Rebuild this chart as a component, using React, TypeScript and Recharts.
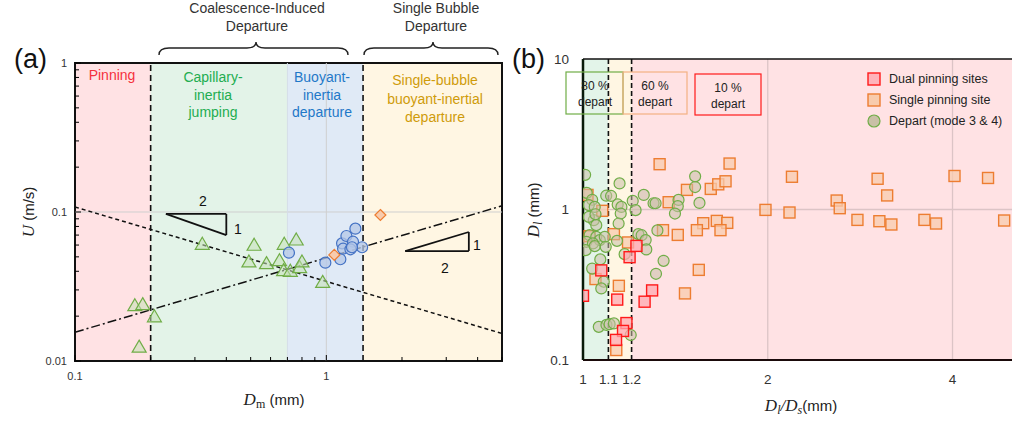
import React from "react";
import { ScatterChart, Scatter, XAxis, YAxis, ReferenceArea, ReferenceLine, Legend } from "recharts";

// ---------- panel (a) ----------
const aXTicks = [0.1, 0.2, 0.3, 0.4, 0.5, 0.6, 0.7, 0.8, 0.9, 1, 2, 3, 4, 5];
const aYTicks = [0.01, 0.02, 0.03, 0.04, 0.05, 0.06, 0.07, 0.08, 0.09, 0.1, 0.2, 0.3, 0.4, 0.5, 0.6, 0.7, 0.8, 0.9, 1];
const aXLabels = [0.1, 1];
const aYLabels = [0.01, 0.1, 1];

// regime boundaries in Dm (mm)
const aBounds = [0.1, 0.2, 0.7, 1.4, 5];
const aFills = ["#ffe2e4", "#e3f3e8", "#e0eaf6", "#fff6e3"];

const capillaryPts: [number, number][] = [
  [0.173, 0.0235], [0.186, 0.0239], [0.207, 0.0198], [0.18, 0.0124],
  [0.321, 0.0607], [0.516, 0.0598], [0.492, 0.0462], [0.578, 0.045],
  [0.651, 0.0471], [0.68, 0.0607], [0.759, 0.0649], [0.676, 0.0404],
  [0.719, 0.04], [0.783, 0.0423], [0.8, 0.0462], [0.967, 0.0337],
];
const buoyantPts: [number, number][] = [
  [0.71, 0.0533], [0.991, 0.0457], [1.137, 0.0482], [1.155, 0.0616],
  [1.202, 0.069], [1.305, 0.0773], [1.277, 0.0632], [1.166, 0.0567],
  [1.247, 0.0562], [1.388, 0.058], [1.265, 0.058],
];
const singlePts: [number, number][] = [[1.076, 0.0515], [1.641, 0.0955]];

// scaling lines U ~ D^-1/2 and U ~ D^1/2
const capLine: [number, number][] = [[0.1, 0.108], [5, 0.0153]];
const buoyLine: [number, number][] = [[0.1, 0.0156], [5, 0.11]];
const slopeTriA: [number, number][] = [[0.23, 0.097], [0.4, 0.097], [0.4, 0.07]];
const slopeTriB: [number, number][] = [[2.06, 0.0547], [3.69, 0.0547], [3.69, 0.0734]];

// ---------- panel (b) ----------
const bXTicks = [1, 1.1, 1.2, 2, 4];
const bYTicks = [0.1, 1, 10];
const bBounds = [1, 1.1, 1.2, 5];
const bFills = ["#e3f4e9", "#fff6e3", "#ffe2e4"];

const dualPts: [number, number][] = [
  [1.0, 0.267], [1.071, 0.394], [1.191, 0.482], [1.222, 0.573], [1.296, 0.29],
  [1.26, 0.244], [1.137, 0.252], [1.177, 0.176], [1.162, 0.156], [1.132, 0.136],
];
const singlePinPts: [number, number][] = [
  [1.333, 2.0], [1.733, 2.02], [2.19, 1.65], [3.02, 1.6], [4.03, 1.67], [4.57, 1.62],
  [3.13, 1.24], [2.59, 1.147], [2.62, 1.02], [1.477, 1.35], [1.615, 1.37], [1.661, 1.47],
  [1.707, 1.54], [1.379, 1.118], [1.983, 0.994], [2.17, 0.955], [1.017, 1.25], [1.075, 0.98],
  [2.8, 0.853], [3.04, 0.836], [3.18, 0.795], [3.6, 0.853], [3.76, 0.807], [4.855, 0.845],
  [1.57, 0.811], [1.652, 0.84], [1.718, 0.815], [1.675, 0.729], [1.533, 0.729], [1.427, 0.678],
  [1.35, 0.729], [1.544, 0.397], [1.466, 0.277], [1.144, 0.311], [1.025, 0.665], [1.048, 0.345],
  [1.123, 0.686], [1.184, 0.604], [1.133, 0.1165],
];
const departPts: [number, number][] = [
  [1.008, 1.7], [1.014, 1.29], [1.035, 1.16], [1.022, 1.07], [1.045, 1.04], [1.091, 1.235],
  [1.111, 1.23], [1.147, 1.49], [1.139, 1.08], [1.155, 1.04], [1.152, 0.94], [1.143, 0.807],
  [1.205, 1.14], [1.218, 0.99], [1.256, 1.25], [1.303, 1.1], [1.313, 1.1], [1.431, 1.158],
  [1.427, 1.052], [1.412, 0.94], [1.523, 1.66], [1.523, 1.41], [1.548, 1.106], [1.322, 0.726],
  [1.231, 0.686], [1.246, 0.675], [1.265, 0.626], [1.268, 0.543], [1.353, 0.456], [1.315, 0.374],
  [1.041, 0.849], [1.051, 0.787], [1.025, 0.675], [1.051, 0.658], [1.065, 0.626], [1.085, 0.658],
  [1.013, 0.61], [1.038, 0.595], [1.01, 0.537], [1.045, 0.571], [1.089, 0.565], [1.136, 0.619],
  [1.169, 0.505], [1.067, 0.466], [1.035, 0.405], [1.081, 0.331], [1.071, 0.299], [1.061, 0.166],
  [1.092, 0.171], [1.105, 0.173], [1.123, 0.175], [1.196, 0.1465], [1.022, 0.893], [1.048, 0.93],
];
const legendNames = ["Dual pinning sites", "Single pinning site", "Depart (mode 3 & 4)"];

const toXY = (pts: [number, number][]) => pts.map(([x, y]) => ({ x, y }));
const FONT = "'Liberation Sans', Arial, sans-serif";
const SERIF = "'Liberation Serif', 'Times New Roman', serif";

const Triangle = (p: any) => {
  const { cx, cy } = p;
  return (
    <polygon
      points={`${cx},${cy - 7} ${cx + 7},${cy + 5} ${cx - 7},${cy + 5}`}
      fill="#c5e0b4" fillOpacity={0.55} stroke="#70ad47" strokeWidth={1.2}
    />
  );
};
const Dot = (p: any) => (
  <circle cx={p.cx} cy={p.cy} r={5.5} fill="#b4c7e7" fillOpacity={0.75} stroke="#4472c4" strokeWidth={1.2} />
);
const Diamond = (p: any) => {
  const { cx, cy } = p;
  return <polygon points={`${cx},${cy - 5.5} ${cx + 5.5},${cy} ${cx},${cy + 5.5} ${cx - 5.5},${cy}`} fill="#f8cbad" stroke="#ed7d31" strokeWidth={1.2} />;
};
const square = (stroke: string, fill: string) => (p: any) => (
  <rect x={p.cx - 5.5} y={p.cy - 5.5} width={11} height={11} fill={fill} fillOpacity={0.75} stroke={stroke} strokeWidth={1.4} />
);
const DualSq = square("#ff1a1a", "#ffa8b0");
const SingleSq = square("#ed7d31", "#f8cbad");
const Depart = (p: any) => (
  <circle cx={p.cx} cy={p.cy} r={5.5} fill="#c9c0a6" fillOpacity={0.55} stroke="#70ad47" strokeWidth={1.2} />
);

const XTickA = (p: any) => {
  const { x, y, payload } = p;
  const major = aXLabels.includes(payload.value);
  const axisY = y - 11;
  return (
    <g>
      <line x1={x} x2={x} y1={axisY} y2={axisY - (major ? 6 : 4)} stroke="#000" />
      {major && (
        <text x={x} y={y} dy="0.71em" textAnchor="middle" fontSize={11} fontFamily={FONT} fill="#333">
          {payload.value}
        </text>
      )}
    </g>
  );
};
const YTickA = (p: any) => {
  const { x, y, payload } = p;
  const major = aYLabels.includes(payload.value);
  const axisX = x + 8;
  return (
    <g>
      <line x1={axisX} x2={axisX + (major ? 6 : 4)} y1={y} y2={y} stroke="#000" />
      {major && (
        <text x={x} y={y} dy="0.35em" textAnchor="end" fontSize={11} fontFamily={FONT} fill="#333">
          {payload.value}
        </text>
      )}
    </g>
  );
};

const BLegend = () => {
  const icons = [
    <rect x={1} y={1} width={12} height={12} fill="#ffb3ba" stroke="#ff1a1a" strokeWidth={1.4} />,
    <rect x={1} y={1} width={12} height={12} fill="#f8cbad" stroke="#ed7d31" strokeWidth={1.4} />,
    <circle cx={7} cy={7} r={6} fill="#c9c0a6" stroke="#70ad47" strokeWidth={1.2} />,
  ];
  return (
    <div style={{ fontFamily: FONT, fontSize: 12.5, color: "#222" }}>
      {legendNames.map((n, i) => (
        <div key={n} style={{ display: "flex", alignItems: "center", height: 21 }}>
          <svg width={14} height={14} style={{ marginRight: 8 }}>{icons[i]}</svg>
          <span>{n}</span>
        </div>
      ))}
    </div>
  );
};

function PanelA() {
  return (
    <ScatterChart width={510} height={421} margin={{ top: 63, right: 8, left: 0, bottom: 0 }}>
      <XAxis
        dataKey="x" type="number" scale="log" domain={[0.1, 5]} ticks={aXTicks} interval={0}
        allowDataOverflow height={60} tickSize={0} tickMargin={11} tick={<XTickA />}
        axisLine={false} tickLine={false}
      />
      <YAxis
        dataKey="y" type="number" scale="log" domain={[0.01, 1]} ticks={aYTicks} interval={0}
        allowDataOverflow width={75} tickSize={0} tickMargin={8} tick={<YTickA />}
        axisLine={false} tickLine={false}
      />
      {aFills.map((f, i) => (
        <ReferenceArea key={i} x1={aBounds[i]} x2={aBounds[i + 1]} fill={f} fillOpacity={1} ifOverflow="visible" />
      ))}
      <ReferenceLine x={1} stroke="#cfcfcf" ifOverflow="visible" />
      <ReferenceLine y={0.1} stroke="#cfcfcf" ifOverflow="visible" />
      <ReferenceLine x={0.7} stroke="#d4dde8" ifOverflow="visible" />
      {[aBounds[1], aBounds[3]].map((b) => (
        <ReferenceLine key={b} x={b} stroke="#111" strokeWidth={1.6} strokeDasharray="6 4" ifOverflow="visible" />
      ))}
      <ReferenceLine
        segment={capLine.map(([x, y]) => ({ x, y }))}
        stroke="#111" strokeWidth={1.5} strokeDasharray="4 3" ifOverflow="visible"
      />
      <ReferenceLine
        segment={buoyLine.map(([x, y]) => ({ x, y }))}
        stroke="#111" strokeWidth={1.5} strokeDasharray="9 3 2 3" ifOverflow="visible"
      />
      {[slopeTriA, slopeTriB].map((tri, t) =>
        tri.map((v, i) => {
          const w = tri[(i + 1) % 3];
          return (
            <ReferenceLine
              key={`${t}-${i}`}
              segment={[{ x: v[0], y: v[1] }, { x: w[0], y: w[1] }]}
              stroke="#111" strokeWidth={1.8} ifOverflow="visible"
            />
          );
        })
      )}
      <Scatter data={toXY(capillaryPts)} shape={Triangle} isAnimationActive={false} />
      <Scatter data={toXY(buoyantPts)} shape={Dot} isAnimationActive={false} />
      <Scatter data={toXY(singlePts)} shape={Diamond} isAnimationActive={false} />
      <ReferenceArea x1={0.1} x2={5} y1={0.01} y2={1} fill="none" stroke="#111" strokeWidth={2} ifOverflow="visible" />
    </ScatterChart>
  );
}

function PanelB() {
  return (
    <ScatterChart width={503} height={421} margin={{ top: 59, right: 1, left: 0, bottom: 0 }}>
      <XAxis
        dataKey="x" type="number" scale="log" domain={[1, 5]} ticks={bXTicks} interval={0}
        allowDataOverflow height={61} tickSize={0} tickMargin={14} tickLine={false}
        axisLine={{ stroke: "#1a0a0a", strokeWidth: 2 }}
        tick={{ fontSize: 13.5, fontFamily: FONT, fill: "#333" }}
      />
      <YAxis
        dataKey="y" type="number" scale="log" domain={[0.1, 10]} ticks={bYTicks} interval={0}
        allowDataOverflow width={73} tickSize={0} tickMargin={14} tickLine={false}
        axisLine={{ stroke: "#0a1a0a", strokeWidth: 2.5 }}
        tick={{ fontSize: 13.5, fontFamily: FONT, fill: "#333" }}
      />
      {bFills.map((f, i) => (
        <ReferenceArea key={i} x1={bBounds[i]} x2={bBounds[i + 1]} fill={f} fillOpacity={1} ifOverflow="visible" />
      ))}
      <ReferenceLine x={2} stroke="#dcc4c6" strokeWidth={1.3} ifOverflow="visible" />
      <ReferenceLine x={4} stroke="#dcc4c6" strokeWidth={1.3} ifOverflow="visible" />
      <ReferenceLine y={1} stroke="#dcc4c6" strokeWidth={1.3} ifOverflow="visible" />
      <ReferenceLine y={10} stroke="#111" strokeWidth={1.6} ifOverflow="visible" />
      {[bBounds[1], bBounds[2]].map((b) => (
        <ReferenceLine key={b} x={b} stroke="#111" strokeWidth={1.6} strokeDasharray="5 3" ifOverflow="visible" />
      ))}
      <Scatter name={legendNames[1]} data={toXY(singlePinPts)} shape={SingleSq} isAnimationActive={false} />
      <Scatter name={legendNames[2]} data={toXY(departPts)} shape={Depart} isAnimationActive={false} />
      <Scatter name={legendNames[0]} data={toXY(dualPts)} shape={DualSq} isAnimationActive={false} />
      <Legend
        layout="horizontal" verticalAlign="middle" align="center" content={<BLegend />}
        wrapperStyle={{ top: 68, left: 357, width: 150 }}
      />
    </ScatterChart>
  );
}

function Brace({ x1, x2, tip, y }: { x1: number; x2: number; tip: number; y: number }) {
  const d = `M${x1},${y + 13} Q${x1},${y + 6} ${x1 + 10},${y + 6} L${tip - 9},${y + 6} Q${tip},${y + 6} ${tip},${y} Q${tip},${y + 6} ${tip + 9},${y + 6} L${x2 - 10},${y + 6} Q${x2},${y + 6} ${x2},${y + 13}`;
  return <path d={d} fill="none" stroke="#222" strokeWidth={1.4} />;
}

function Overlay() {
  const t = { fontFamily: FONT, textAnchor: "middle" as const };
  return (
    <svg width={1013} height={421} style={{ position: "absolute", left: 0, top: 0, pointerEvents: "none" }}>
      <text x={14} y={68} fontSize={27} fontFamily={FONT} fill="#111">(a)</text>
      <text x={512} y={68} fontSize={27} fontFamily={FONT} fill="#111">(b)</text>

      <g {...t} fontSize={14} fill="#333">
        <text x={257} y={13}>Coalescence-Induced</text>
        <text x={257} y={31}>Departure</text>
        <text x={436} y={13}>Single Bubble</text>
        <text x={436} y={31}>Departure</text>
      </g>
      <Brace x1={159} x2={348} tip={256} y={42} />
      <Brace x1={364} x2={498} tip={433} y={42} />

      <g {...t} fontSize={14}>
        <text x={112} y={80} fill="#f5303c">Pinning</text>
        <text x={213} y={82} fill="#22ad50">Capillary-</text>
        <text x={213} y={100} fill="#22ad50">inertia</text>
        <text x={213} y={117} fill="#22ad50">jumping</text>
        <text x={322} y={82} fill="#1f78c8">Buoyant-</text>
        <text x={322} y={100} fill="#1f78c8">inertia</text>
        <text x={322} y={117} fill="#1f78c8">departure</text>
        <text x={435} y={85} fill="#cf9b0a">Single-bubble</text>
        <text x={435} y={104} fill="#cf9b0a">buoyant-inertial</text>
        <text x={435} y={122} fill="#cf9b0a">departure</text>
      </g>

      <g {...t} fontSize={14} fill="#111">
        <text x={203} y={206}>2</text>
        <text x={238} y={234}>1</text>
        <text x={477} y={250}>1</text>
        <text x={445} y={273}>2</text>
      </g>

      <text x={274} y={405} textAnchor="middle" fill="#222">
        <tspan fontFamily={SERIF} fontStyle="italic" fontSize={17}>D</tspan>
        <tspan fontFamily={SERIF} fontSize={12} dy={3}>m</tspan>
        <tspan fontFamily={FONT} fontSize={15} dy={-3}> (mm)</tspan>
      </text>
      <text transform="translate(34,212) rotate(-90)" textAnchor="middle" fill="#222">
        <tspan fontFamily={SERIF} fontStyle="italic" fontSize={17}>U</tspan>
        <tspan fontFamily={FONT} fontSize={15}> (m/s)</tspan>
      </text>

      <text x={801} y={411} textAnchor="middle" fill="#222">
        <tspan fontFamily={SERIF} fontStyle="italic" fontSize={17}>D</tspan>
        <tspan fontFamily={SERIF} fontStyle="italic" fontSize={12} dy={3}>l</tspan>
        <tspan fontFamily={SERIF} fontStyle="italic" fontSize={17} dy={-3}>/D</tspan>
        <tspan fontFamily={SERIF} fontStyle="italic" fontSize={12} dy={3}>s</tspan>
        <tspan fontFamily={FONT} fontSize={15} dy={-3}>(mm)</tspan>
      </text>
      <text transform="translate(539,210) rotate(-90)" textAnchor="middle" fill="#222">
        <tspan fontFamily={SERIF} fontStyle="italic" fontSize={17}>D</tspan>
        <tspan fontFamily={SERIF} fontStyle="italic" fontSize={12} dy={3}>l</tspan>
        <tspan fontFamily={FONT} fontSize={15} dy={-3}> (mm)</tspan>
      </text>

      <rect x={566} y={72} width={57} height={42} fill="none" stroke="#70ad47" strokeWidth={1.2} />
      <rect x={623} y={72} width={64} height={42} fill="none" stroke="#f4b183" strokeWidth={1.2} />
      <rect x={695} y={74} width={66} height={41} fill="none" stroke="#ff1a1a" strokeWidth={1.2} />
      <g {...t} fontSize={12} fill="#222">
        <text x={595} y={90}>80 %</text>
        <text x={595} y={106}>depart</text>
        <text x={655} y={90}>60 %</text>
        <text x={655} y={106}>depart</text>
        <text x={728} y={92}>10 %</text>
        <text x={728} y={108}>depart</text>
      </g>
    </svg>
  );
}

export default function App() {
  return (
    <div style={{ position: "absolute", left: 0, top: 0, width: 1013, height: 421, background: "#fff" }}>
      <div style={{ position: "absolute", left: 0, top: 0 }}>
        <PanelA />
      </div>
      <div style={{ position: "absolute", left: 510, top: 0 }}>
        <PanelB />
      </div>
      <Overlay />
    </div>
  );
}
